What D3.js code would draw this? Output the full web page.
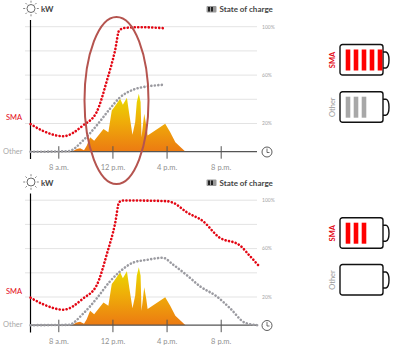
<!DOCTYPE html>
<html>
<head>
<meta charset="utf-8">
<script src="https://cdn.jsdelivr.net/npm/d3@7"></script>
<style>
html, body { margin: 0; padding: 0; background: #fff; }
svg { display: block; font-family: Lato, "Open Sans", sans-serif; }
</style>
</head>
<body>
<svg width="393" height="352"></svg>
<script>
// time axis
const tickHours = [8, 12, 16, 20];
const tickLabels = ['8 a.m.', '12 p.m.', '4 p.m.', '8 p.m.'];
const percentTicks = [20, 40, 60, 80, 100];
const percentLabels = {20: '20%', 60: '60%', 100: '100%'};

// pv generation, same for both panels
const pvHours = [8.99, 9.36, 9.61, 9.9, 10.1, 10.35, 10.65, 11.34, 11.7, 11.95, 12.13, 12.57, 12.77, 13.07, 13.26, 13.48, 13.68, 13.8, 13.95, 14.08, 14.15, 14.35, 14.5, 14.6, 15.9, 16.27, 16.65, 17.4];
const pvValues = [-3.3, -1.1, -0.5, -2.2, 1.7, 8.6, 5.8, 15.5, 12.8, 30.8, 33.5, 40.5, 35.5, 41.3, 26.6, 10.6, 21, 37.7, 44.6, 37.7, 8.6, 28, 18.3, 10, 19.7, 12.8, 4.5, -3.3];

// top panel, stops at 4 p.m.
const topSmaHours = [5.95, 6.9, 8.37, 9.85, 10.84, 11.6, 12.2, 12.5, 12.95, 14, 15.8];
const topSmaValues = [19.5, 13.7, 9.5, 18.6, 29.6, 55.8, 80.7, 97, 99, 99.6, 98.8];
const topOtherHours = [5.95, 8.75, 9.85, 10.85, 11.8, 12.55, 13.55, 14.55, 15.8];
const topOtherValues = [-3.4, -2.9, 6.2, 18.6, 32, 41.5, 48, 50.6, 52];

// bottom panel, whole day
const botSmaHours = [5.95, 6.9, 8.37, 9.85, 10.85, 11.6, 12.2, 12.5, 12.8, 16, 16.5, 17.5, 18.7, 19.85, 21.45, 22.07, 22.9];
const botSmaValues = [19.4, 13.9, 9.5, 18.9, 30, 56, 81, 98.4, 99.8, 99.2, 97.8, 90, 82.6, 69.6, 62.4, 55, 44.7];
const botOtherHours = [5.95, 8.75, 9.85, 10.85, 11.8, 12.55, 13.55, 14.55, 15.73, 16.5, 17.5, 18.5, 19.73, 20.7, 21.8, 22.7];
const botOtherValues = [-3.3, -3, 6.4, 19, 32.7, 41, 48.5, 50.7, 52.4, 46.6, 38, 28.6, 20.3, 10.6, -1.3, -3.3];

// battery bars
const topBatterySegments = [5, 3];
const botBatterySegments = [3, 0];

const RED = '#e30613';
const GREY = '#9b9ba1';

const svg = d3.select('svg');

const x = d3.scaleLinear().domain([8, 20]).range([58.3, 220.7]);
const y = d3.scaleLinear().domain([20, 100]).range([123.5, 26.7]);
const baseValue = -3.3;
const baseY = y(baseValue);

const defs = svg.append('defs');
const grad = defs.append('linearGradient')
    .attr('id', 'pvFill')
    .attr('x1', 0).attr('x2', 0).attr('y1', 0).attr('y2', 1);
grad.append('stop').attr('offset', '0%').attr('stop-color', '#e8dc00');
grad.append('stop').attr('offset', '45%').attr('stop-color', '#efb008');
grad.append('stop').attr('offset', '100%').attr('stop-color', '#ec7a12');

const toPoints = (hours, values) => hours.map((h, i) => [h, values[i]]);

const line = d3.line().x(d => x(d[0])).y(d => y(d[1])).curve(d3.curveMonotoneX);
const area = d3.area().x(d => x(d[0])).y0(baseY).y1(d => y(d[1]));

const sunIcon = (g, cx, cy) => {
    g.append('circle').attr('cx', cx).attr('cy', cy).attr('r', 4)
        .attr('fill', 'none').attr('stroke', '#444').attr('stroke-width', 0.8);
    d3.range(8).forEach(i => {
        const a = i * Math.PI / 4;
        g.append('line')
            .attr('x1', cx + Math.cos(a) * 5.8).attr('y1', cy + Math.sin(a) * 5.8)
            .attr('x2', cx + Math.cos(a) * 7.8).attr('y2', cy + Math.sin(a) * 7.8)
            .attr('stroke', '#666').attr('stroke-width', 0.8);
    });
};

const panel = (selection, props) => {
    const {offset, smaPoints, otherPoints} = props;
    const g = selection.append('g').attr('transform', `translate(0, ${offset})`);

    // grid
    g.selectAll('.grid').data(percentTicks).enter().append('line')
        .attr('class', 'grid')
        .attr('x1', 25).attr('x2', 257)
        .attr('y1', d => y(d)).attr('y2', d => y(d))
        .attr('stroke', '#dcdcdc').attr('stroke-width', 0.8);

    g.selectAll('.pct').data(percentTicks.filter(d => percentLabels[d])).enter().append('text')
        .attr('class', 'pct')
        .attr('x', 262).attr('y', d => y(d) + 1.8)
        .attr('font-size', 5).attr('fill', '#a5a5a5')
        .text(d => percentLabels[d]);

    g.append('path')
        .attr('d', area(toPoints(pvHours, pvValues)))
        .attr('fill', 'url(#pvFill)');

    // x axis
    const xAxis = d3.axisBottom(x)
        .tickValues(tickHours)
        .tickFormat((d, i) => tickLabels[i])
        .tickSize(0)
        .tickPadding(13);
    const xAxisG = g.append('g')
        .attr('transform', `translate(0, ${baseY})`)
        .call(xAxis);
    xAxisG.selectAll('.domain').remove();
    xAxisG.selectAll('text')
        .attr('font-size', 7.5).attr('font-family', 'Lato, "Open Sans", sans-serif')
        .attr('fill', '#909090');
    xAxisG.selectAll('.tick').append('line')
        .attr('y1', -5.5).attr('y2', 7)
        .attr('stroke', '#555').attr('stroke-width', 1);

    g.append('line')
        .attr('x1', 30.5).attr('x2', 257)
        .attr('y1', baseY).attr('y2', baseY)
        .attr('stroke', '#555').attr('stroke-width', 1.3);

    g.append('line')
        .attr('x1', 30.5).attr('x2', 30.5)
        .attr('y1', 20).attr('y2', 159)
        .attr('stroke', '#000').attr('stroke-width', 1.2);

    // dotted series
    [[otherPoints, GREY], [smaPoints, RED]].forEach(([pts, col]) => {
        g.append('path')
            .attr('d', line(pts))
            .attr('fill', 'none')
            .attr('stroke', col)
            .attr('stroke-width', 2.6)
            .attr('stroke-linecap', 'round')
            .attr('stroke-dasharray', '0.1 3.4');
    });

    // left labels
    g.append('text').attr('x', 6).attr('y', 120)
        .attr('font-size', 7.5).attr('fill', RED).text('SMA');
    g.append('text').attr('x', 3).attr('y', 153.5)
        .attr('font-size', 7.5).attr('fill', '#a8a8a8').text('Other');

    // header
    sunIcon(g, 31, 8.5);
    g.append('text').attr('x', 41).attr('y', 12)
        .attr('font-size', 8).attr('font-weight', 700).attr('fill', '#444').text('kW');

    g.append('rect').attr('x', 206.5).attr('y', 6).attr('width', 10).attr('height', 6.5)
        .attr('fill', '#999').attr('rx', 1);
    g.selectAll('.miniBar').data([208, 211]).enter().append('rect')
        .attr('class', 'miniBar')
        .attr('x', d => d).attr('y', 7).attr('width', 2).attr('height', 4.5)
        .attr('fill', '#222');
    g.append('text').attr('x', 219.5).attr('y', 12)
        .attr('font-size', 8).attr('font-weight', 700).attr('fill', '#444').text('State of charge');

    // clock
    g.append('circle').attr('cx', 267).attr('cy', 152).attr('r', 5)
        .attr('fill', '#fff').attr('stroke', '#333').attr('stroke-width', 0.8);
    g.append('path').attr('d', 'M267 148.5V152.5H269.5')
        .attr('fill', 'none').attr('stroke', '#333').attr('stroke-width', 0.7);
};

const battery = (selection, props) => {
    const {top, count, color, label, labelColor, labelWeight} = props;
    const g = selection.append('g').attr('transform', `translate(340, ${top})`);

    g.append('path')
        .attr('d', 'M43 7.5H46Q49 8.5 49 15.5T46 23.5H43')
        .attr('fill', 'none').attr('stroke', '#111').attr('stroke-width', 1.4);
    g.append('rect')
        .attr('width', 43).attr('height', 30.5).attr('rx', 2.5)
        .attr('fill', '#fff').attr('stroke', '#111').attr('stroke-width', 1.4);

    g.selectAll('.seg').data(d3.range(count)).enter().append('rect')
        .attr('class', 'seg')
        .attr('x', d => 5.7 + d * 8)
        .attr('y', 5).attr('width', 4.6).attr('height', 21)
        .attr('fill', color);

    g.append('text')
        .attr('transform', 'translate(-5, 15.5) rotate(-90)')
        .attr('text-anchor', 'middle')
        .attr('font-size', 7.5)
        .attr('font-weight', labelWeight)
        .attr('fill', labelColor)
        .text(label);
};

svg.call(panel, {
    offset: 0,
    smaPoints: toPoints(topSmaHours, topSmaValues),
    otherPoints: toPoints(topOtherHours, topOtherValues)
});
svg.call(panel, {
    offset: 173.5,
    smaPoints: toPoints(botSmaHours, botSmaValues),
    otherPoints: toPoints(botOtherHours, botOtherValues)
});

// ellipse highlighting the midday window
svg.append('ellipse')
    .attr('cx', 116.5).attr('cy', 100.5).attr('rx', 32).attr('ry', 83.5)
    .attr('fill', 'none').attr('stroke', '#b5544f').attr('stroke-width', 2);

svg.call(battery, {top: 44.5, count: topBatterySegments[0], color: '#ff0000', label: 'SMA', labelColor: RED, labelWeight: 700});
svg.call(battery, {top: 91.7, count: topBatterySegments[1], color: '#a8a8a8', label: 'Other', labelColor: '#999', labelWeight: 400});
svg.call(battery, {top: 217.7, count: botBatterySegments[0], color: '#ff0000', label: 'SMA', labelColor: RED, labelWeight: 700});
svg.call(battery, {top: 264.5, count: botBatterySegments[1], color: '#a8a8a8', label: 'Other', labelColor: '#999', labelWeight: 400});
</script>
</body>
</html>
